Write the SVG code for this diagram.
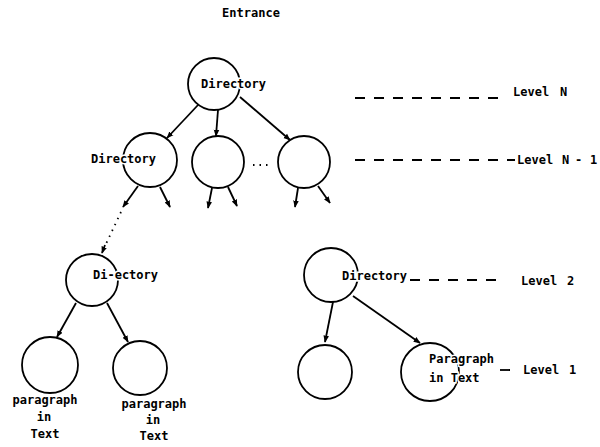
<svg xmlns="http://www.w3.org/2000/svg" width="600" height="447" viewBox="0 0 600 447">
<defs>
<marker id="ah" viewBox="0 0 10 10" refX="9" refY="5" markerWidth="7" markerHeight="7" markerUnits="userSpaceOnUse" orient="auto">
<path d="M0,1 L10,5 L0,9 Z" fill="#000"/>
</marker>
<style>
text{font-family:"DejaVu Sans Mono","Liberation Mono",monospace;font-weight:bold;font-size:12px;fill:#000}
.lbl{stroke:#fff;stroke-width:3;paint-order:stroke}
circle{fill:none;stroke:#000;stroke-width:1.8}
.c line,.c path{stroke:#000;stroke-width:1.8;fill:none}
.arr{marker-end:url(#ah)}
.dash{stroke-dasharray:10 9}
.dot{stroke-dasharray:1.5 5;stroke-width:1.4}
</style>
</defs>
<rect width="600" height="447" fill="#fff"/>
<text x="251" y="17" text-anchor="middle">Entrance</text>

<g id="n-top"><circle cx="214" cy="84" r="26"/><text class="lbl" x="201" y="88">Directory</text></g>
<g id="n-l1"><circle cx="150" cy="160" r="27"/><text class="lbl" x="91" y="163">Directory</text></g>
<g id="n-m1"><circle cx="218" cy="162" r="26"/></g>
<g id="n-r1"><circle cx="304" cy="162" r="26"/></g>
<g id="n-dirL"><circle cx="92" cy="280" r="26"/><text class="lbl" x="93" y="279">Di-ectory</text></g>
<g id="n-pL1"><circle cx="50" cy="365" r="28"/>
<text x="45" y="404" text-anchor="middle">paragraph</text><text x="44" y="421" text-anchor="middle">in</text><text x="45" y="438" text-anchor="middle">Text</text></g>
<g id="n-pL2"><circle cx="140" cy="368" r="27"/>
<text x="154" y="408" text-anchor="middle">paragraph</text><text x="153" y="424" text-anchor="middle">in</text><text x="154" y="440" text-anchor="middle">Text</text></g>
<g id="n-dirR"><circle cx="331" cy="275" r="27"/><text class="lbl" x="342" y="280">Directory</text></g>
<g id="n-pR1"><circle cx="325" cy="372" r="27"/></g>
<g id="n-pR2"><circle cx="430" cy="372" r="29"/><text class="lbl" x="429" y="363">Paragraph</text><text class="lbl" x="429" y="382">in Text</text></g>

<g id="levels">
<text x="513" y="96">Level<tspan x="560">N</tspan></text>
<text x="517" y="164">Level<tspan x="562">N</tspan><tspan x="575">-</tspan><tspan x="590">1</tspan></text>
<text x="521" y="285">Level<tspan x="567">2</tspan></text>
<text x="523" y="374">Level<tspan x="569">1</tspan></text>
</g>

<g id="connectors" class="c">
<line class="arr" x1="198" y1="105" x2="167" y2="138"/>
<line class="arr" x1="218" y1="110" x2="216" y2="136"/>
<line class="arr" x1="240" y1="97" x2="290" y2="140"/>
<line class="arr" x1="138" y1="186" x2="123" y2="207"/>
<line class="arr" x1="160" y1="187" x2="170" y2="207"/>
<line class="arr" x1="212" y1="188" x2="208" y2="208"/>
<line class="arr" x1="228" y1="187" x2="237" y2="206"/>
<line class="arr" x1="298" y1="188" x2="295" y2="207"/>
<line class="arr" x1="318" y1="186" x2="330" y2="203"/>
<line class="dot" x1="253" y1="165" x2="270" y2="165"/>
<line class="dot" x1="121" y1="212" x2="105" y2="246"/>
<line class="arr" x1="105" y1="245" x2="102" y2="253"/>
<line class="arr" x1="76" y1="303" x2="57" y2="337"/>
<line class="arr" x1="107" y1="303" x2="128" y2="342"/>
<line class="arr" x1="333" y1="302" x2="325" y2="342"/>
<line class="arr" x1="353" y1="296" x2="420" y2="343"/>
<line class="dash" x1="355" y1="98" x2="505" y2="98"/>
<line class="dash" x1="355" y1="160" x2="515" y2="160"/>
<line class="dash" x1="410" y1="280" x2="505" y2="280"/>
<line class="dash" x1="500" y1="370" x2="518" y2="370" stroke-dasharray="6 5"/>
</g>
</svg>
